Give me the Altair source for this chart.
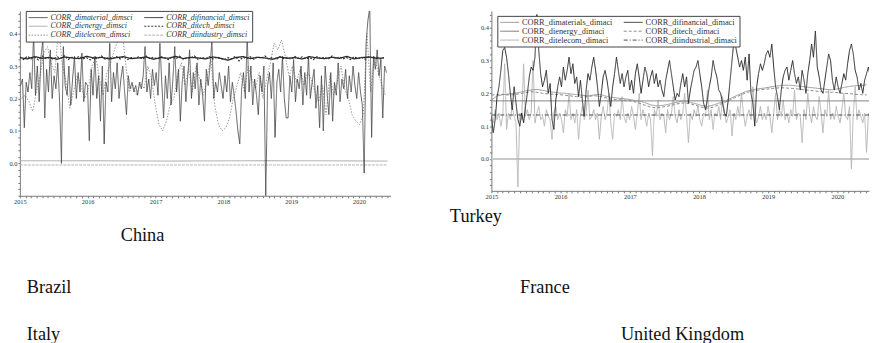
import altair as alt
import pandas as pd

# ---------------- China panel (left) ----------------
# CORR_dimaterial_dimsci, 10-day steps from 2015-01-05
china_material = [
    0.24, 0.26, 0.11, 0.25, 0.22, 0.28, 0.23, 0.40, 0.21, 0.30, 0.19, 0.33, 0.38, 0.14, 0.29, 0.22, 0.35, 0.20,
    0.27, 0.23, 0.31, 0.19, 0.00, 0.36, 0.24, 0.21, 0.30, 0.18, 0.26, 0.33, 0.20, 0.28, 0.22, 0.34, 0.19, 0.25,
    0.24, 0.07, 0.29, 0.21, 0.33, 0.20, 0.27, 0.13, 0.30, 0.06, 0.25, 0.22, 0.37, 0.19, 0.28, 0.23, 0.31, 0.20,
    0.26, 0.30, 0.22, 0.15, 0.27, 0.23, 0.25, 0.22, 0.24, 0.21, 0.25, 0.23, 0.27, 0.36, 0.22, 0.26, 0.20, 0.29,
    0.24, 0.28, 0.21, 0.37, 0.25, 0.14, 0.27, 0.20, 0.31, 0.18, 0.26, 0.36, 0.22, 0.29, 0.13, 0.25, 0.30, 0.19,
    0.27, 0.35, 0.20, 0.28, 0.23, 0.31, 0.18, 0.26, 0.21, 0.13, 0.29, 0.24, 0.30, 0.38, 0.20, 0.25, 0.22, 0.28,
    0.24, 0.20, 0.27, 0.22, 0.30, 0.19, 0.25, 0.21, 0.16, 0.10, 0.06, 0.23, 0.28, 0.20, 0.39, 0.22, 0.30, 0.18,
    0.26, 0.21, 0.15, 0.27, 0.22, 0.30, -0.10, 0.24, 0.28, 0.20, 0.31, 0.08, 0.25, 0.29, 0.22, 0.33, 0.20, 0.14,
    0.14, 0.27, 0.22, 0.32, 0.19, 0.26, 0.23, 0.30, 0.18, 0.28, 0.21, 0.33, 0.20, 0.25, 0.29, 0.17, 0.24, 0.11,
    0.27, 0.10, 0.30, 0.22, 0.15, 0.28, 0.13, 0.25, 0.21, 0.31, 0.19, 0.26, 0.23, 0.29, 0.20, 0.27, 0.22, 0.30,
    0.24, 0.20, 0.28, 0.22, 0.18, -0.03, 0.37, 0.44, 0.48, 0.08, 0.33, 0.29, 0.35, 0.27, 0.32, 0.14, 0.30, 0.28,
]
# CORR_ditelecom_dimsci, 20-day steps from 2015-01-10
china_telecom = [
    0.20, 0.21, 0.19, 0.16, 0.22, 0.27, 0.34, 0.36, 0.31,
    0.28, 0.42, 0.30, 0.25, 0.17, 0.22, 0.27, 0.24, 0.20,
    0.23, 0.30, 0.33, 0.26, 0.21, 0.28, 0.31, 0.35, 0.38,
    0.42, 0.31, 0.22, 0.24, 0.21, 0.25, 0.23, 0.30, 0.26,
    0.18, 0.12, 0.10, 0.13, 0.18, 0.20, 0.27, 0.31, 0.24,
    0.29, 0.22, 0.30, 0.26, 0.21, 0.27, 0.32, 0.18, 0.12,
    0.10, 0.11, 0.14, 0.20, 0.24, 0.28, 0.22, 0.30, 0.26,
    0.23, 0.28, 0.20, 0.26, 0.31, 0.37, 0.35, 0.38, 0.33,
    0.27, 0.30, 0.25, 0.29, 0.24, 0.28, 0.26, 0.22, 0.19,
    0.24, 0.15, 0.27, 0.21, 0.25, 0.30, 0.23, 0.20, 0.15,
    0.13, 0.12, 0.15, 0.40, 0.22, 0.33, 0.28, 0.24, 0.21,
]
# CORR_difinancial_dimsci, 40-day steps from 2015-01-01
china_financial = [
    0.326, 0.322, 0.329, 0.324, 0.327, 0.321, 0.328, 0.325, 0.323, 0.330,
    0.324, 0.327, 0.322, 0.326, 0.329, 0.323, 0.325, 0.328, 0.321, 0.326,
    0.324, 0.330, 0.323, 0.327, 0.325, 0.322, 0.328, 0.324, 0.318, 0.326,
    0.329, 0.323, 0.327, 0.325, 0.321, 0.328, 0.324, 0.326, 0.322, 0.329,
    0.325, 0.323, 0.327, 0.324, 0.330, 0.322, 0.326, 0.328, 0.324, 0.325,
]
# CORR_ditech_dimsci, 20-day steps from 2015-01-01
china_tech = [
    0.328, 0.320, 0.330, 0.322, 0.327, 0.319, 0.331, 0.323, 0.326,
    0.321, 0.329, 0.324, 0.332, 0.320, 0.327, 0.323, 0.330, 0.322,
    0.326, 0.319, 0.328, 0.324, 0.331, 0.321, 0.327, 0.323, 0.329,
    0.322, 0.330, 0.320, 0.326, 0.324, 0.328, 0.321, 0.331, 0.323,
    0.327, 0.322, 0.329, 0.325, 0.320, 0.328, 0.323, 0.330, 0.321,
    0.326, 0.324, 0.331, 0.320, 0.327, 0.323, 0.329, 0.322, 0.328,
    0.324, 0.319, 0.326, 0.322, 0.330, 0.316, 0.327, 0.323, 0.329,
    0.321, 0.328, 0.324, 0.331, 0.322, 0.326, 0.320, 0.329, 0.323,
    0.327, 0.321, 0.330, 0.324, 0.328, 0.322, 0.326, 0.320, 0.329,
    0.323, 0.327, 0.321, 0.331, 0.324, 0.328, 0.322, 0.326, 0.320,
    0.329, 0.323, 0.327, 0.321, 0.330, 0.324, 0.328, 0.322, 0.326,
]
# near-zero flat series, 396-day steps from 2015-01-01
china_energy = [0.008, 0.008, 0.007, 0.008, 0.008, 0.007]
china_industry = [-0.005, -0.005, -0.005, -0.005, -0.005, -0.005]

# legend order (filled column by column)
china_names = ["CORR_dimaterial_dimsci", "CORR_dienergy_dimsci", "CORR_ditelecom_dimsci",
               "CORR_difinancial_dimsci", "CORR_ditech_dimsci", "CORR_diindustry_dimsci"]

# ---------------- Turkey panel (right) ----------------
# CORR_difinancial_dimaci, 10-day steps from 2015-01-01
tr_financial = [
    0.13, 0.08, 0.12, 0.19, 0.22, 0.27, 0.33, 0.34, 0.31, 0.26, 0.20, 0.15, 0.22, 0.17, 0.12, 0.10, 0.14, 0.11,
    0.16, 0.20, 0.25, 0.28, 0.27, 0.31, 0.44, 0.33, 0.26, 0.22, 0.24, 0.27, 0.20, 0.23, 0.12, 0.09, 0.18, 0.22,
    0.25, 0.22, 0.28, 0.24, 0.27, 0.31, 0.26, 0.29, 0.23, 0.25, 0.19, 0.24, 0.18, 0.13, 0.21, 0.26, 0.24, 0.28,
    0.31, 0.27, 0.22, 0.16, 0.20, 0.25, 0.27, 0.24, 0.20, 0.16, 0.22, 0.26, 0.31, 0.27, 0.23, 0.26, 0.22, 0.25,
    0.27, 0.21, 0.24, 0.20, 0.26, 0.29, 0.25, 0.20, 0.24, 0.28, 0.26, 0.22, 0.25, 0.27, 0.23, 0.26, 0.22, 0.24,
    0.21, 0.19, 0.24, 0.27, 0.30, 0.26, 0.22, 0.18, 0.20, 0.19, 0.23, 0.26, 0.22, 0.25, 0.17, 0.21, 0.24, 0.27,
    0.28, 0.30, 0.26, 0.22, 0.17, 0.15, 0.18, 0.22, 0.25, 0.30, 0.27, 0.25, 0.21, 0.20, 0.17, 0.14, 0.13, 0.18,
    0.24, 0.30, 0.36, 0.34, 0.31, 0.28, 0.30, 0.27, 0.31, 0.24, 0.32, 0.20, 0.17, 0.10, 0.22, 0.26, 0.29, 0.27,
    0.29, 0.32, 0.33, 0.31, 0.35, 0.28, 0.22, 0.19, 0.15, 0.21, 0.25, 0.27, 0.28, 0.24, 0.27, 0.30, 0.26, 0.23,
    0.25, 0.21, 0.27, 0.24, 0.20, 0.26, 0.30, 0.35, 0.31, 0.39, 0.28, 0.25, 0.21, 0.20, 0.24, 0.28, 0.32, 0.30,
    0.24, 0.21, 0.25, 0.22, 0.20, 0.23, 0.26, 0.24, 0.29, 0.33, 0.35, 0.32, 0.27, 0.25, 0.21, 0.23, 0.20, 0.24,
    0.26, 0.28, 0.25,
]
# CORR_ditelecom_dimaci, 10-day steps from 2015-01-01
tr_telecom = [
    0.13, 0.11, 0.15, 0.12, 0.14, 0.10, 0.13, 0.29, 0.09, 0.14, 0.12, 0.16, 0.13, 0.11, -0.085, 0.14, 0.12, 0.29,
    0.13, 0.15, 0.12, 0.14, 0.30, 0.11, 0.14, 0.16, 0.12, 0.13, 0.10, 0.15, 0.13, 0.12, 0.06, 0.14, 0.16, 0.12,
    0.14, 0.12, 0.08, 0.15, 0.13, 0.20, 0.12, 0.14, 0.11, 0.15, 0.06, 0.13, 0.16, 0.12, 0.14, 0.21, 0.12, 0.13,
    0.15, 0.12, 0.14, 0.06, 0.13, 0.16, 0.12, 0.14, 0.20, 0.11, 0.06, 0.14, 0.13, 0.15, 0.12, 0.19, 0.13, 0.11,
    0.14, 0.12, 0.16, 0.13, 0.09, 0.14, 0.20, 0.12, 0.15, 0.13, 0.10, 0.14, 0.12, 0.01, 0.15, 0.13, 0.18, 0.12,
    0.14, 0.13, 0.08, 0.15, 0.12, 0.14, 0.19, 0.13, 0.11, 0.15, 0.12, 0.14, 0.20, 0.13, 0.05, 0.14, 0.12, 0.15,
    0.13, 0.16, 0.12, 0.10, 0.14, 0.13, 0.21, 0.12, 0.15, 0.09, 0.14, 0.13, 0.16, 0.12, 0.19, 0.14, 0.11, 0.13,
    0.15, 0.07, 0.14, 0.12, 0.16, 0.13, 0.20, 0.14, 0.10, 0.13, 0.15, 0.12, 0.22, 0.14, 0.11, 0.13, 0.16, 0.12,
    0.14, 0.12, 0.16, 0.13, 0.08, 0.14, 0.20, 0.12, 0.15, 0.13, 0.18, 0.12, 0.14, 0.11, 0.15, 0.13, 0.21, 0.12,
    0.14, 0.13, 0.05, 0.15, 0.12, 0.20, 0.14, 0.11, 0.16, 0.13, 0.12, 0.19, 0.14, 0.08, 0.15, 0.13, 0.21, 0.12,
    0.14, 0.12, 0.16, 0.13, 0.11, 0.15, 0.20, 0.13, 0.12, 0.16, -0.03, 0.14, 0.22, 0.12, 0.15, 0.13, 0.11, 0.14,
    0.02, 0.14, 0.13,
]
# smooth series, 30-day steps from 2015-01-01
tr_materials = [
    0.180, 0.192, 0.196, 0.198, 0.200, 0.203, 0.207, 0.210, 0.212, 0.209, 0.206, 0.203,
    0.201, 0.200, 0.198, 0.196, 0.194, 0.192, 0.195, 0.197, 0.192, 0.188, 0.186, 0.184,
    0.182, 0.179, 0.176, 0.172, 0.165, 0.162, 0.163, 0.166, 0.170, 0.174, 0.176, 0.172,
    0.168, 0.163, 0.160, 0.164, 0.170, 0.176, 0.184, 0.192, 0.200, 0.207, 0.211, 0.214,
    0.216, 0.219, 0.222, 0.224, 0.225, 0.224, 0.222, 0.220, 0.218, 0.216, 0.214, 0.212,
    0.211, 0.214, 0.218, 0.221, 0.223, 0.224, 0.226,
]
tr_tech = [
    0.195, 0.196, 0.197, 0.195, 0.196, 0.199, 0.202, 0.205, 0.203, 0.200, 0.198, 0.197,
    0.196, 0.194, 0.192, 0.190, 0.188, 0.190, 0.193, 0.191, 0.187, 0.183, 0.181, 0.180,
    0.178, 0.175, 0.170, 0.164, 0.158, 0.156, 0.158, 0.161, 0.165, 0.169, 0.171, 0.168,
    0.163, 0.158, 0.155, 0.158, 0.165, 0.172, 0.180, 0.188, 0.196, 0.203, 0.207, 0.210,
    0.212, 0.214, 0.216, 0.217, 0.216, 0.215, 0.213, 0.211, 0.209, 0.207, 0.205, 0.204,
    0.203, 0.202, 0.200, 0.199, 0.197, 0.196, 0.195,
]
# flat series, 400-day steps from 2015-01-01
tr_energy = [0.177, 0.177, 0.177, 0.177, 0.177, 0.177]
tr_industrial = [0.134, 0.134, 0.134, 0.134, 0.134, 0.134]
tr_zero = [0.0]

tr_names = ["CORR_dimaterials_dimaci", "CORR_dienergy_dimaci", "CORR_ditelecom_dimaci",
            "CORR_difinancial_dimaci", "CORR_ditech_dimaci", "CORR_diindustrial_dimaci"]

left_labels = ["China", "Brazil", "Italy"]
right_labels = ["Turkey", "France", "United Kingdom"]


def make_df(values, start, step, name):
    return pd.DataFrame({
        "date": pd.date_range(start, periods=len(values), freq=f"{step}D"),
        "value": values,
        "series": name,
    })


SERIF = "Liberation Serif"
month_ticks = [alt.DateTime(year=y, month=m, date=1)
               for y in range(2015, 2021) for m in range(1, 13)
               if not (y == 2020 and m > 6)]
y_ticks = [round(-0.1 + 0.02 * i, 2) for i in range(29)]
y_ticks = [0.0 if abs(v) < 1e-9 else v for v in y_ticks]

x_axis = alt.Axis(values=month_ticks, labelExpr="month(datum.value) == 0 ? timeFormat(datum.value, '%Y') : ''",
                  labelOverlap=False, labelFlush=False, tickSize=2, labelPadding=1,
                  labelFont=SERIF, labelFontSize=6.5, labelColor="#333",
                  domainColor="#777", tickColor="#777", grid=False, title=None)
y_axis = alt.Axis(values=y_ticks,
                  labelExpr="(abs(datum.value*10 - round(datum.value*10)) < 0.01 && datum.value > -0.05) ? format(datum.value, '.1f') : ''",
                  labelOverlap=False, tickSize=2, labelPadding=1,
                  labelFont=SERIF, labelFontSize=6.5, labelColor="#333",
                  domainColor="#777", tickColor="#777", grid=False, title=None)


def panel(layers_spec, names, colors, dashes, xdom, ydom, legend_x, legend_y, italic, font_size):
    legend = alt.Legend(title=None, orient="none", legendX=legend_x, legendY=legend_y, columns=2,
                        symbolType="M-2.4,0L2.4,0", symbolSize=64, symbolStrokeWidth=1,
                        symbolOffset=6, labelOffset=8,
                        labelFont=SERIF, labelFontSize=font_size, labelColor="#333",
                        labelFontStyle="italic" if italic else "normal",
                        labelLimit=300, rowPadding=0, columnPadding=8,
                        padding=2, strokeColor="#444", fillColor="white")
    color = alt.Color("series:N", scale=alt.Scale(domain=names, range=[colors[n] for n in names]),
                      legend=legend)
    dash = alt.StrokeDash("series:N", scale=alt.Scale(domain=names, range=[dashes[n] for n in names]),
                          legend=legend)
    xs = alt.Scale(domain=xdom)
    ys = alt.Scale(domain=ydom, nice=False, zero=False)
    out = []
    for df, w in layers_spec:
        out.append(alt.Chart(df).mark_line(strokeWidth=w, clip=True).encode(
            x=alt.X("date:T", scale=xs, axis=x_axis),
            y=alt.Y("value:Q", scale=ys, axis=y_axis),
            color=color, strokeDash=dash))
    return out, xs, ys


# ----- left panel -----
cn = dict(zip(["material", "energy", "telecom", "financial", "tech", "industry"], china_names))
c_df = {
    "material": make_df(china_material, "2015-01-05", 10, cn["material"]),
    "financial": make_df(china_financial, "2015-01-01", 40, cn["financial"]),
    "energy": make_df(china_energy, "2015-01-01", 396, cn["energy"]),
    "tech": make_df(china_tech, "2015-01-01", 20, cn["tech"]),
    "telecom": make_df(china_telecom, "2015-01-10", 20, cn["telecom"]),
    "industry": make_df(china_industry, "2015-01-01", 396, cn["industry"]),
}
left_layers, lxs, lys = panel(
    [(c_df["energy"], 1.0), (c_df["industry"], 1.0), (c_df["telecom"], 0.9),
     (c_df["material"], 0.8), (c_df["financial"], 1.3), (c_df["tech"], 1.2)],
    china_names,
    {cn["material"]: "#3c3c3c", cn["financial"]: "#2a2a2a", cn["energy"]: "#a8a8a8",
     cn["tech"]: "#333333", cn["telecom"]: "#8c8c8c", cn["industry"]: "#b4b4b4"},
    {cn["material"]: [1, 0], cn["financial"]: [1, 0], cn["energy"]: [1, 0],
     cn["tech"]: [2, 1.5], cn["telecom"]: [1.5, 1.5], cn["industry"]: [3, 1]},
    [alt.DateTime(year=2015, month=1, date=1), alt.DateTime(year=2020, month=6, date=19)],
    [-0.1, 0.47], 6, 0, True, 8)

# ----- right panel -----
tn = dict(zip(["materials", "energy", "telecom", "financial", "tech", "industrial"], tr_names))
t_df = {
    "materials": make_df(tr_materials, "2015-01-01", 30, tn["materials"]),
    "financial": make_df(tr_financial, "2015-01-01", 10, tn["financial"]),
    "energy": make_df(tr_energy, "2015-01-01", 400, tn["energy"]),
    "tech": make_df(tr_tech, "2015-01-01", 30, tn["tech"]),
    "telecom": make_df(tr_telecom, "2015-01-01", 10, tn["telecom"]),
    "industrial": make_df(tr_industrial, "2015-01-01", 400, tn["industrial"]),
}
right_layers, rxs, rys = panel(
    [(t_df["telecom"], 1.0), (t_df["energy"], 1.0), (t_df["industrial"], 1.0),
     (t_df["materials"], 1.0), (t_df["tech"], 1.0), (t_df["financial"], 1.0)],
    tr_names,
    {tn["materials"]: "#9a9a9a", tn["financial"]: "#2a2a2a", tn["energy"]: "#7a7a7a",
     tn["tech"]: "#8a8a8a", tn["telecom"]: "#b5b5b5", tn["industrial"]: "#4a4a4a"},
    {tn["materials"]: [1, 0], tn["financial"]: [1, 0], tn["energy"]: [1, 0],
     tn["tech"]: [3, 2], tn["telecom"]: [1, 0], tn["industrial"]: [4, 2, 1, 2]},
    [alt.DateTime(year=2015, month=1, date=1), alt.DateTime(year=2020, month=6, date=16)],
    [-0.097, 0.451], 6, 5, False, 8.4)

zero_rule = alt.Chart(pd.DataFrame({"value": tr_zero})).mark_rule(
    color="#c8c8c8", strokeWidth=2).encode(y=alt.Y("value:Q", scale=rys, axis=y_axis))


def label(text, x, y):
    return alt.Chart(pd.DataFrame({"t": [text]})).mark_text(
        align="left", baseline="alphabetic", font=SERIF, fontSize=18.5, color="#111"
    ).encode(x=alt.value(x), y=alt.value(y), text="t:N")


left = alt.layer(*left_layers,
                 label(left_labels[0], 102, 233),
                 label(left_labels[1], 7, 285),
                 label(left_labels[2], 7, 333)).properties(width=375, height=187)

right = alt.layer(zero_rule, *right_layers,
                  label(right_labels[0], -42, 214),
                  label(right_labels[1], 29, 285),
                  label(right_labels[2], 131, 333)).properties(width=382, height=182)

chart = alt.hconcat(left, right, spacing=60).resolve_scale(
    color="independent", strokeDash="independent"
).resolve_legend(
    color="independent", strokeDash="independent"
).properties(
    padding={"left": 0, "top": 0, "right": 0, "bottom": 0}
).configure_view(strokeWidth=0)

chart.save("out.html", embed_options={"renderer": "svg", "actions": False})
